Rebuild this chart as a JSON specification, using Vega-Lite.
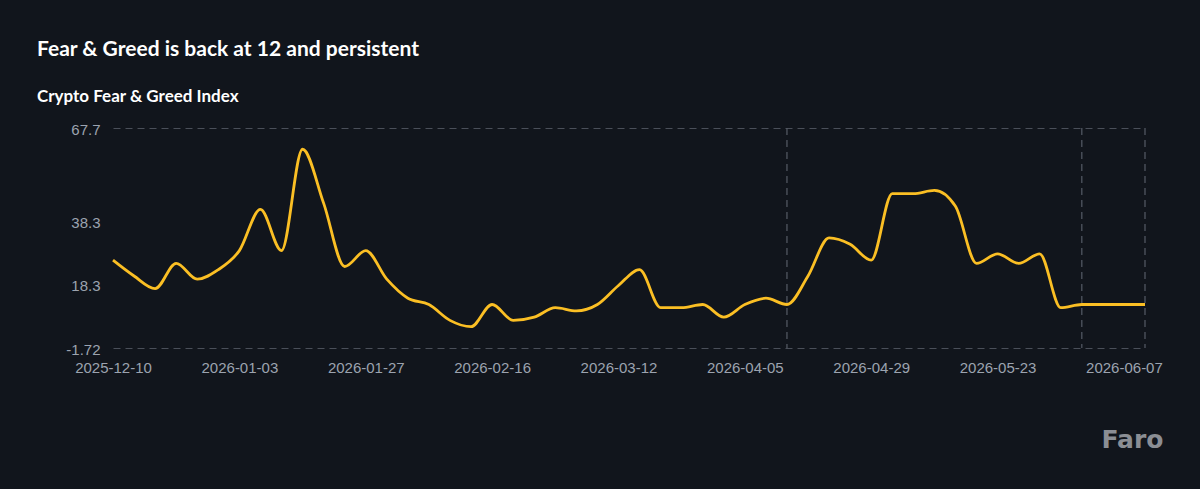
{
  "$schema": "https://vega.github.io/schema/vega-lite/v6.json",
  "width": 1032,
  "height": 220,
  "autosize": {"type": "none"},
  "padding": {"left": 113, "top": 128, "right": 55, "bottom": 141},
  "background": "#11151c",
  "title": {
    "text": "Fear & Greed is back at 12 and persistent",
    "subtitle": "Crypto Fear & Greed Index",
    "anchor": "start",
    "frame": "group",
    "dx": -76,
    "offset": 17,
    "font": "Lato",
    "fontSize": 21,
    "fontWeight": 700,
    "color": "#ffffff",
    "subtitleFont": "Lato",
    "subtitleFontSize": 17,
    "subtitleFontWeight": 700,
    "subtitleColor": "#ffffff",
    "subtitlePadding": 29
  },
  "config": {
    "view": {"stroke": null},
    "axis": {
      "labelFont": "Liberation Sans",
      "labelFontSize": 15,
      "labelColor": "#9ca3af",
      "ticks": false,
      "domain": false
    }
  },
  "datasets": {
    "index": [
      {"date": "2025-12-10", "value": 26},
      {"date": "2025-12-14", "value": 21},
      {"date": "2025-12-18", "value": 17},
      {"date": "2025-12-22", "value": 25},
      {"date": "2025-12-26", "value": 20},
      {"date": "2025-12-30", "value": 23},
      {"date": "2026-01-03", "value": 29},
      {"date": "2026-01-07", "value": 42},
      {"date": "2026-01-11", "value": 29},
      {"date": "2026-01-15", "value": 61},
      {"date": "2026-01-19", "value": 44},
      {"date": "2026-01-23", "value": 24},
      {"date": "2026-01-27", "value": 29},
      {"date": "2026-01-31", "value": 20},
      {"date": "2026-02-03", "value": 14},
      {"date": "2026-02-06", "value": 12},
      {"date": "2026-02-09", "value": 7},
      {"date": "2026-02-12", "value": 5},
      {"date": "2026-02-16", "value": 12},
      {"date": "2026-02-20", "value": 7},
      {"date": "2026-02-24", "value": 8},
      {"date": "2026-02-28", "value": 11},
      {"date": "2026-03-04", "value": 10},
      {"date": "2026-03-08", "value": 12},
      {"date": "2026-03-12", "value": 18},
      {"date": "2026-03-16", "value": 23},
      {"date": "2026-03-20", "value": 11},
      {"date": "2026-03-24", "value": 11},
      {"date": "2026-03-28", "value": 12},
      {"date": "2026-04-01", "value": 8},
      {"date": "2026-04-05", "value": 12},
      {"date": "2026-04-09", "value": 14},
      {"date": "2026-04-13", "value": 12},
      {"date": "2026-04-17", "value": 21},
      {"date": "2026-04-21", "value": 33},
      {"date": "2026-04-25", "value": 31},
      {"date": "2026-04-29", "value": 26},
      {"date": "2026-05-03", "value": 47},
      {"date": "2026-05-07", "value": 47},
      {"date": "2026-05-11", "value": 48},
      {"date": "2026-05-15", "value": 43},
      {"date": "2026-05-19", "value": 25},
      {"date": "2026-05-23", "value": 28},
      {"date": "2026-05-26", "value": 25},
      {"date": "2026-05-29", "value": 28},
      {"date": "2026-06-01", "value": 11},
      {"date": "2026-06-03", "value": 12},
      {"date": "2026-06-05", "value": 12},
      {"date": "2026-06-07", "value": 12},
      {"date": "2026-06-09", "value": 12}
    ],
    "markers": [
      {"date": "2026-04-13"},
      {"date": "2026-06-03"},
      {"date": "2026-06-09"}
    ]
  },
  "layer": [
    {
      "data": {"name": "markers"},
      "mark": {"type": "rule", "color": "#565b66", "strokeWidth": 1.2, "strokeDash": [7, 5]},
      "encoding": {
        "x": {"field": "date", "type": "ordinal"}
      }
    },
    {
      "data": {"name": "index"},
      "mark": {"type": "line", "color": "#fbbf24", "strokeWidth": 2.8, "interpolate": "monotone"},
      "encoding": {
        "x": {
          "field": "date",
          "type": "ordinal",
          "scale": {"type": "point", "padding": 0},
          "axis": {
            "values": ["2025-12-10", "2026-01-03", "2026-01-27", "2026-02-16", "2026-03-12", "2026-04-05", "2026-04-29", "2026-05-23", "2026-06-07"],
            "labelAngle": 0,
            "labelAlign": "center",
            "labelPadding": 19,
            "grid": false,
            "title": "Faro",
            "titleX": 1050,
            "titleY": 99,
            "titleAlign": "right",
            "titleAnchor": "end",
            "titleBaseline": "alphabetic",
            "titleFont": "DejaVu Sans",
            "titleFontSize": 25,
            "titleFontWeight": 700,
            "titleColor": "#8b8e94"
          }
        },
        "y": {
          "field": "value",
          "type": "quantitative",
          "scale": {"domain": [-1.72, 67.7], "nice": false, "zero": false},
          "axis": {
            "values": [67.7, 38.3, 18.3, -1.72],
            "labelExpr": "'' + datum.value",
            "title": null,
            "labelPadding": 13,
            "labelOffset": 1,
            "grid": true,
            "gridColor": "#4a4f59",
            "gridDash": [7, 5],
            "gridWidth": 1.2,
            "gridOpacity": {"condition": {"test": "datum.value === 67.7 || datum.value === -1.72", "value": 1}, "value": 0}
          }
        }
      }
    }
  ]
}
